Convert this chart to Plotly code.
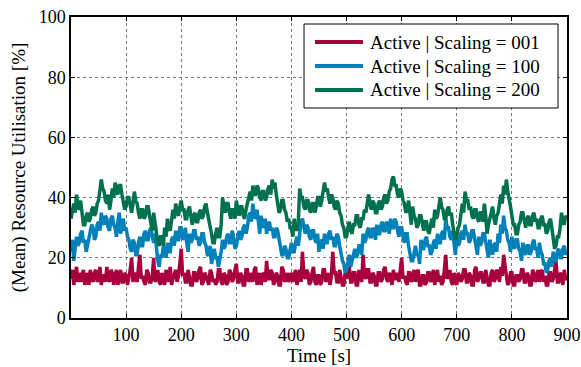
import plotly.graph_objects as go

# sampling step 2.5 s, 0..900 s
series_names = ["Active | Scaling = 001", "Active | Scaling = 100", "Active | Scaling = 200"]

scaling_001 = [
    13, 16, 11, 14, 17, 12, 15, 12, 14, 16, 11, 13, 15, 11, 16, 13, 12, 15, 16, 12,
    13, 17, 11, 14, 14, 12, 17, 13, 12, 16, 15, 11, 13, 16, 11, 14, 16, 12, 12, 15,
    14, 11, 13, 16, 20, 12, 15, 13, 12, 17, 21, 13, 14, 12, 11, 16, 15, 12, 12, 14,
    20, 12, 13, 16, 12, 11, 15, 13, 11, 16, 14, 12, 17, 11, 13, 15, 16, 12, 14, 18,
    23, 14, 15, 12, 12, 16, 14, 11, 11, 15, 15, 12, 13, 16, 17, 11, 12, 15, 14, 12,
    11, 16, 15, 12, 13, 11, 12, 16, 16, 12, 11, 15, 14, 11, 12, 16, 15, 12, 13, 16,
    18, 12, 12, 15, 14, 11, 11, 16, 16, 12, 13, 15, 12, 16, 17, 11, 13, 15, 11, 14,
    15, 12, 19, 13, 13, 16, 15, 11, 12, 15, 14, 11, 11, 17, 16, 12, 13, 15, 12, 14,
    15, 12, 14, 16, 11, 13, 16, 12, 22, 14, 13, 16, 15, 11, 12, 15, 17, 12, 11, 14,
    14, 11, 12, 16, 16, 12, 13, 15, 11, 14, 22, 15, 15, 12, 12, 16, 14, 11, 11, 15,
    13, 16, 17, 12, 12, 15, 15, 11, 11, 16, 14, 12, 21, 14, 13, 16, 16, 12, 12, 15,
    14, 11, 11, 15, 15, 12, 13, 16, 17, 13, 12, 15, 14, 11, 16, 13, 13, 15, 12, 16,
    20, 13, 14, 12, 11, 15, 15, 12, 13, 16, 12, 15, 16, 11, 11, 14, 14, 11, 12, 15,
    15, 12, 13, 16, 11, 14, 16, 12, 14, 11, 12, 16, 21, 13, 14, 16, 12, 11, 15, 12,
    11, 15, 14, 12, 13, 16, 16, 12, 12, 15, 14, 11, 11, 16, 17, 12, 13, 15, 15, 12,
    12, 16, 14, 11, 11, 15, 16, 12, 13, 16, 15, 12, 17, 14, 21, 16, 14, 11, 12, 15,
    15, 11, 11, 14, 14, 12, 13, 16, 16, 12, 12, 15, 14, 11, 11, 16, 15, 12, 13, 16,
    12, 15, 16, 12, 14, 11, 11, 15, 15, 12, 13, 16, 19, 12, 12, 15, 14, 11, 16, 13,
    13]

scaling_100 = [
    22, 26, 19, 23, 27, 24, 25, 28, 29, 25, 26, 22, 24, 27, 28, 31, 30, 26, 27, 31,
    32, 29, 35, 32, 31, 34, 33, 30, 29, 33, 34, 31, 30, 27, 32, 35, 28, 31, 33, 29,
    30, 27, 26, 23, 22, 26, 25, 21, 21, 25, 27, 24, 24, 28, 29, 26, 26, 29, 30, 27,
    25, 28, 22, 19, 17, 21, 20, 24, 23, 20, 25, 22, 22, 26, 27, 24, 29, 26, 26, 30,
    30, 26, 27, 30, 25, 22, 28, 25, 26, 29, 29, 26, 27, 24, 25, 28, 28, 25, 24, 21,
    21, 24, 18, 21, 23, 20, 20, 17, 19, 22, 26, 23, 24, 27, 28, 25, 25, 29, 27, 23,
    24, 27, 29, 26, 27, 30, 31, 28, 30, 34, 35, 32, 38, 34, 33, 36, 31, 28, 34, 31,
    30, 33, 28, 31, 32, 29, 30, 27, 27, 30, 29, 26, 24, 21, 21, 24, 23, 20, 20, 23,
    25, 22, 22, 25, 27, 24, 29, 32, 33, 30, 28, 31, 30, 27, 26, 29, 29, 26, 25, 28,
    22, 25, 26, 23, 28, 25, 25, 28, 29, 26, 27, 24, 24, 28, 27, 24, 21, 19, 18, 15,
    16, 19, 21, 17, 19, 22, 23, 20, 21, 24, 24, 21, 28, 25, 26, 29, 30, 27, 27, 30,
    29, 26, 31, 28, 28, 31, 32, 29, 29, 32, 31, 28, 33, 30, 30, 33, 32, 29, 27, 30,
    30, 27, 25, 28, 28, 24, 22, 19, 19, 22, 24, 21, 21, 18, 26, 23, 23, 26, 27, 24,
    24, 21, 22, 25, 26, 23, 28, 25, 25, 28, 29, 26, 33, 30, 30, 27, 26, 29, 24, 21,
    27, 24, 25, 28, 29, 26, 31, 28, 28, 25, 26, 29, 29, 26, 24, 21, 27, 24, 25, 28,
    28, 25, 23, 20, 26, 23, 21, 24, 25, 22, 28, 25, 31, 28, 34, 30, 29, 26, 25, 22,
    27, 24, 23, 26, 26, 23, 22, 19, 25, 22, 21, 24, 24, 21, 22, 25, 26, 23, 23, 20,
    25, 22, 21, 18, 18, 15, 16, 19, 20, 17, 22, 19, 19, 22, 23, 20, 20, 23, 24, 21,
    22]

scaling_200 = [
    33, 36, 38, 35, 41, 37, 36, 39, 34, 31, 31, 34, 35, 32, 33, 36, 37, 34, 35, 38,
    39, 42, 46, 43, 42, 39, 38, 41, 36, 39, 43, 40, 45, 42, 41, 44, 44, 41, 39, 36,
    37, 40, 40, 37, 35, 38, 42, 39, 38, 35, 33, 36, 36, 33, 34, 37, 37, 34, 32, 29,
    35, 31, 28, 25, 24, 27, 27, 24, 30, 27, 33, 30, 29, 32, 36, 33, 38, 35, 34, 37,
    39, 36, 36, 33, 33, 36, 37, 34, 31, 34, 35, 32, 32, 35, 36, 33, 34, 37, 38, 35,
    33, 30, 28, 25, 25, 28, 30, 27, 27, 31, 40, 37, 35, 38, 38, 35, 33, 36, 36, 33,
    39, 36, 34, 37, 37, 34, 33, 36, 38, 41, 42, 39, 44, 41, 41, 44, 43, 40, 39, 42,
    42, 39, 40, 43, 44, 41, 46, 43, 45, 41, 38, 35, 36, 39, 39, 36, 35, 32, 33, 30,
    30, 27, 33, 30, 29, 32, 43, 40, 40, 37, 36, 39, 39, 36, 35, 38, 38, 35, 37, 40,
    40, 37, 39, 42, 45, 42, 43, 40, 38, 41, 40, 37, 36, 39, 38, 35, 34, 31, 30, 27,
    27, 30, 32, 29, 28, 31, 31, 34, 34, 31, 30, 33, 33, 36, 35, 38, 41, 38, 36, 39,
    38, 35, 35, 38, 39, 36, 37, 40, 41, 38, 39, 42, 43, 46, 47, 44, 44, 41, 40, 43,
    42, 39, 38, 35, 36, 39, 34, 31, 37, 34, 33, 30, 31, 34, 34, 31, 29, 32, 32, 29,
    28, 31, 33, 30, 36, 33, 34, 37, 40, 37, 36, 33, 33, 36, 37, 34, 35, 31, 29, 26,
    27, 30, 31, 34, 38, 35, 42, 39, 39, 36, 37, 34, 33, 36, 36, 33, 32, 35, 35, 32,
    38, 34, 28, 31, 33, 36, 37, 33, 31, 34, 35, 38, 41, 38, 44, 41, 46, 42, 40, 37,
    34, 31, 31, 28, 28, 31, 32, 35, 35, 32, 30, 33, 34, 31, 31, 34, 35, 32, 33, 30,
    30, 33, 34, 31, 31, 28, 29, 32, 33, 30, 26, 23, 24, 27, 27, 30, 35, 32, 31, 34,
    33]

time_s = [i * 2.5 for i in range(len(scaling_001))]

colors = ["#A8003C", "#0081B9", "#00714F"]

x_ticks = [100, 200, 300, 400, 500, 600, 700, 800, 900]
y_ticks = [0, 20, 40, 60, 80, 100]

fig = go.Figure()
for name, vals, col in zip(series_names, [scaling_001, scaling_100, scaling_200], colors):
    fig.add_trace(go.Scatter(x=time_s, y=vals, mode="lines", name=name,
                             line=dict(color=col, width=3.5), showlegend=False))

font = "Liberation Serif"

# legend box drawn in paper coordinates
lx0, lx1, ly0, ly1 = 0.4698, 0.9819, 0.6977, 0.9767
sx0, sx1, tx = 0.4919, 0.5887, 0.5988
rows_y = [0.9169, 0.8372, 0.7575]
fig.add_shape(type="rect", xref="paper", yref="paper", x0=lx0, x1=lx1, y0=ly0, y1=ly1,
              line=dict(color="black", width=1), fillcolor="white", layer="above")
for name, col, ry in zip(series_names, colors, rows_y):
    fig.add_shape(type="line", xref="paper", yref="paper", x0=sx0, x1=sx1, y0=ry, y1=ry,
                  line=dict(color=col, width=4), layer="above")
    fig.add_annotation(xref="paper", yref="paper", x=tx, y=ry, text=name, showarrow=False,
                       xanchor="left", yanchor="middle",
                       font=dict(family=font, size=19, color="black"))

fig.update_layout(
    width=581, height=367,
    margin=dict(l=71, r=14, t=17, b=49, autoexpand=False),
    paper_bgcolor="white", plot_bgcolor="white",
    font=dict(family=font, size=17, color="black"),
    showlegend=False,
    xaxis=dict(range=[0, 900], tickvals=x_ticks, showgrid=True, automargin=False,
               gridcolor="#777777", griddash="dot", gridwidth=1,
               showline=True, linecolor="black", linewidth=1.5, mirror="ticks",
               ticks="inside", ticklen=4, tickcolor="black", zeroline=False,
               tickfont=dict(family=font, size=18, weight="normal"),
               title=dict(text="Time [s]", standoff=2,
                          font=dict(family=font, size=19, weight="normal"))),
    yaxis=dict(range=[0, 100], tickvals=y_ticks, showgrid=True, automargin=False,
               gridcolor="#777777", griddash="dot", gridwidth=1,
               showline=True, linecolor="black", linewidth=1.5, mirror="ticks",
               ticks="inside", ticklen=4, tickcolor="black", zeroline=False,
               tickfont=dict(family=font, size=18, weight="normal"),
               title=dict(text="(Mean) Resource Utilisation [%]", standoff=8,
                          font=dict(family=font, size=19, weight="normal"))),
)

fig.write_html("out.html")
